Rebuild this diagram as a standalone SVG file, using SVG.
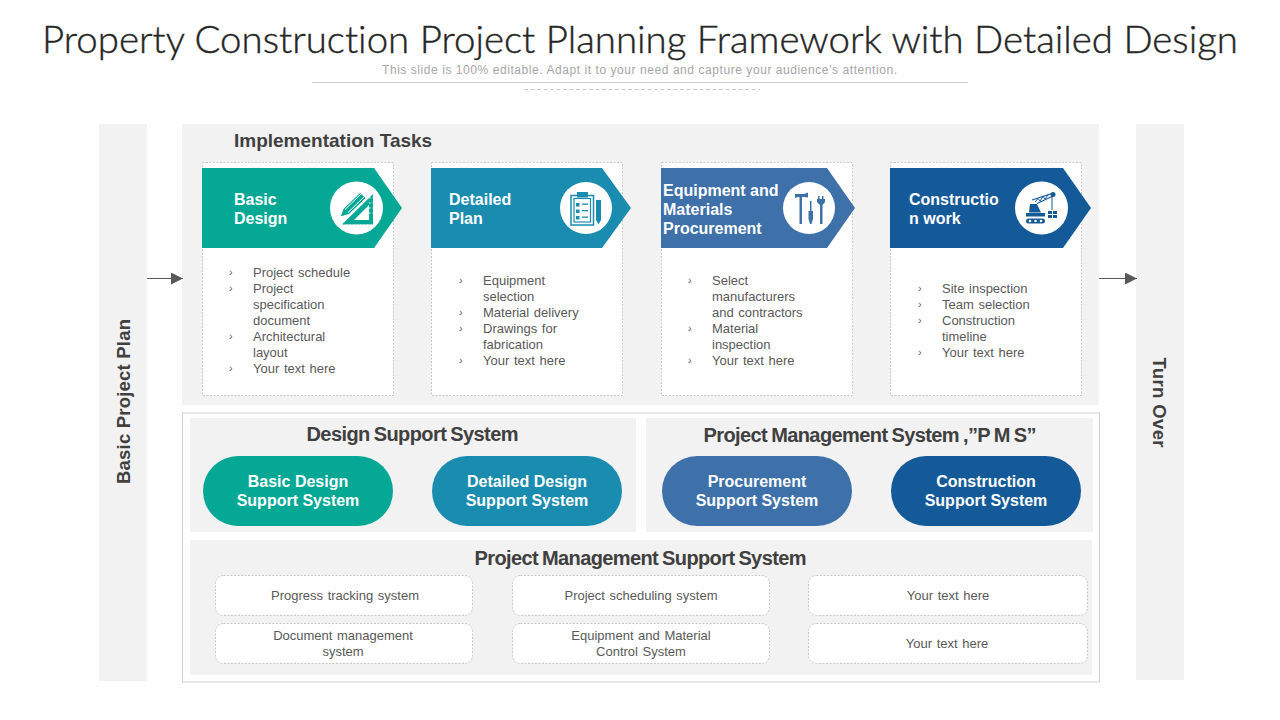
<svg xmlns="http://www.w3.org/2000/svg" width="1280" height="720" viewBox="0 0 1280 720">
<style>
text{font-family:"Liberation Sans",Arial,sans-serif}
.panel{fill:#f2f2f2}
.card{fill:#fff;stroke:#c8c8c8;stroke-width:1;stroke-dasharray:2 1.5}
.hd{font-size:19px;font-weight:700;fill:#404040}
.hd2{font-size:20px;font-weight:700;fill:#404040;text-anchor:middle;word-spacing:-1px}
.lbl{font-size:16px;font-weight:700;fill:#fff}
.pill{font-size:16px;font-weight:700;fill:#fff;text-anchor:middle}
.li{font-size:13px;fill:#595959;word-spacing:1px}
.bu{font-size:11px;fill:#595959}
.box{font-size:13px;fill:#595959;text-anchor:middle;word-spacing:1px}
.c1{fill:#05a795}.c2{fill:#1a8caf}.c3{fill:#3e70aa}.c4{fill:#155a98}
.conn{stroke:#595959;stroke-width:1;fill:none;marker-end:url(#ah)}
</style>
<defs>
<marker id="ah" viewBox="0 0 12 12" refX="12" refY="6" markerWidth="12" markerHeight="12" markerUnits="userSpaceOnUse" orient="auto"><path d="M0 0L12 6L0 12Z" fill="#595959"/></marker>
</defs>
<rect width="1280" height="720" fill="#fff"/>
<g id="header">
<text x="640" y="53" text-anchor="middle" textLength="1196" lengthAdjust="spacingAndGlyphs" style="font-family:Lato,'Liberation Sans',sans-serif;font-size:38px;font-weight:300;font-variant-ligatures:none" fill="#262626" stroke="#262626" stroke-width="0.4">Property Construction Project Planning Framework with Detailed Design</text>
<text x="639.500" y="74" text-anchor="middle" textLength="515" lengthAdjust="spacing" font-size="12px" fill="#a6a6a6">This slide is 100% editable. Adapt it to your need and capture your audience’s attention.</text>
<line x1="312" y1="82.500" x2="968" y2="82.500" stroke="#d0d0d0"/>
<line x1="524" y1="89.500" x2="760" y2="89.500" stroke="#c8c8c8" stroke-dasharray="4 2.500"/>
</g>
<g id="basic-project-plan"><rect class="panel" x="99" y="124" width="48" height="557"/><text class="hd" transform="translate(130 401.500) rotate(-90)" text-anchor="middle" textLength="165" style="font-size:18.500px">Basic Project Plan</text></g>
<g id="turn-over"><rect class="panel" x="1136" y="124" width="48" height="556"/><text class="hd" transform="translate(1153 402.500) rotate(90)" text-anchor="middle" textLength="90" style="font-size:18.500px">Turn Over</text></g>
<g id="implementation-tasks"><rect class="panel" x="182" y="124" width="917" height="281"/><text class="hd" x="234" y="147">Implementation Tasks</text></g>
<rect id="lower-frame" x="182.500" y="413" width="917" height="269" fill="#fff" stroke="#d0d0d0"/>

<g id="task-basic-design">
<rect class="card" x="202.500" y="162.500" width="191" height="233"/>
<path class="c1" d="M202 168H374L402 208L374 248H202Z"/>
<text class="lbl" x="234" y="205">Basic</text><text class="lbl" x="234" y="224">Design</text>
<circle cx="356.500" cy="208" r="26.500" fill="#fff"/>
<path class="c1" d="M342 224.500L373 194V224.500ZM354 220H369V205Z" fill-rule="evenodd"/>
<path d="M346 225H372M369 198H373M369 203H373M369 208H373M369 213H373" stroke="#fff" stroke-width="1" stroke-dasharray="1.500 2" fill="none"/>
<path class="c1" d="M340 217L343 209L360 192.500L366 198L349 214.500Z" stroke="#fff" stroke-width="1"/>
<path d="M345 209.500L361 194M348 212.500L364 197" stroke="#fff" stroke-width="1" fill="none"/>
<text class="bu" x="229" y="276">›</text><text class="li" x="253" y="277">Project schedule</text>
<text class="bu" x="229" y="292">›</text><text class="li" x="253" y="293">Project</text><text class="li" x="253" y="309">specification</text><text class="li" x="253" y="325">document</text>
<text class="bu" x="229" y="340">›</text><text class="li" x="253" y="341">Architectural</text><text class="li" x="253" y="357">layout</text>
<text class="bu" x="229" y="372">›</text><text class="li" x="253" y="373">Your text here</text>
</g>

<g id="task-detailed-plan">
<rect class="card" x="431.500" y="162.500" width="191" height="233"/>
<path class="c2" d="M431 168H602L631 208L602 248H431Z"/>
<text class="lbl" x="449" y="205">Detailed</text><text class="lbl" x="449" y="224">Plan</text>
<circle cx="586" cy="208" r="26" fill="#fff"/>
<rect x="571" y="195.500" width="22.500" height="29.500" fill="none" stroke="#1a8caf" stroke-width="1.500"/>
<rect x="574" y="198.500" width="16.500" height="23.500" fill="none" stroke="#1a8caf" stroke-width="1.200"/>
<g class="c2"><rect x="577" y="192" width="11" height="5.500"/><rect x="576" y="203" width="3.500" height="3.500"/><rect x="582" y="203.500" width="6" height="1.300"/><rect x="576" y="209.500" width="3.500" height="3.500"/><rect x="582" y="210" width="6" height="1.300"/><rect x="576" y="216" width="3.500" height="3.500"/><rect x="582" y="216.500" width="6" height="1.300"/><path d="M596 200H601V220L598.500 224.500L596 220Z"/></g>
<text class="bu" x="459" y="284">›</text><text class="li" x="483" y="285">Equipment</text><text class="li" x="483" y="301">selection</text>
<text class="bu" x="459" y="316">›</text><text class="li" x="483" y="317">Material delivery</text>
<text class="bu" x="459" y="332">›</text><text class="li" x="483" y="333">Drawings for</text><text class="li" x="483" y="349">fabrication</text>
<text class="bu" x="459" y="364">›</text><text class="li" x="483" y="365">Your text here</text>
</g>

<g id="task-procurement">
<rect class="card" x="661.500" y="162.500" width="191" height="233"/>
<path class="c3" d="M661 168H827L855 208L827 248H661Z"/>
<text class="lbl" x="663" y="196">Equipment and</text><text class="lbl" x="663" y="215">Materials</text><text class="lbl" x="663" y="234">Procurement</text>
<circle cx="809" cy="208" r="26" fill="#fff"/>
<g class="c3"><path d="M795 194H804L808 192.500V197.500L804 197H802V224H799.500V197H798L795 198Z"/><path d="M810 201H811.500V211H813V219L811.500 224H810L808.500 219V211H810Z"/><path d="M818 196H819.500V199H822V196H823.500V199H825V202L822.500 205V224H820V205L817 202V199H818Z"/></g>
<text class="bu" x="688" y="284">›</text><text class="li" x="712" y="285">Select</text><text class="li" x="712" y="301">manufacturers</text><text class="li" x="712" y="317">and contractors</text>
<text class="bu" x="688" y="332">›</text><text class="li" x="712" y="333">Material</text><text class="li" x="712" y="349">inspection</text>
<text class="bu" x="688" y="364">›</text><text class="li" x="712" y="365">Your text here</text>
</g>

<g id="task-construction">
<rect class="card" x="890.500" y="162.500" width="191" height="233"/>
<path class="c4" d="M890 168H1063L1091 208L1063 248H890Z"/>
<text class="lbl" x="909" y="205">Constructio</text><text class="lbl" x="909" y="224">n work</text>
<circle cx="1041.500" cy="208" r="26.500" fill="#fff"/>
<g class="c4"><rect x="1026" y="218.500" width="19" height="5" rx="2.500"/><rect x="1026" y="213" width="19" height="3.500"/><path d="M1030 204H1037L1041 212.500H1029Z"/><path d="M1032 200L1052 193.500L1053 196L1037 203.500" fill="none" stroke="#155a98" stroke-width="1.200"/><path d="M1035 202L1038 198.500L1040 201L1043 196.500L1045 199L1048 195" fill="none" stroke="#155a98" stroke-width="1"/><rect x="1051.500" y="196" width="1" height="14"/><circle cx="1053" cy="194.500" r="2.500"/><rect x="1048" y="211" width="4" height="3"/><rect x="1053" y="211" width="4" height="3"/><rect x="1048" y="215" width="4" height="3"/><rect x="1053" y="215" width="4" height="3"/></g>
<circle cx="1030" cy="221" r="1.300" fill="#fff"/><circle cx="1035.500" cy="221" r="1.300" fill="#fff"/><circle cx="1041" cy="221" r="1.300" fill="#fff"/>
<text class="bu" x="918" y="292">›</text><text class="li" x="942" y="293">Site inspection</text>
<text class="bu" x="918" y="308">›</text><text class="li" x="942" y="309">Team selection</text>
<text class="bu" x="918" y="324">›</text><text class="li" x="942" y="325">Construction</text><text class="li" x="942" y="341">timeline</text>
<text class="bu" x="918" y="356">›</text><text class="li" x="942" y="357">Your text here</text>
</g>

<g id="design-support-system">
<rect class="panel" x="190" y="418" width="446" height="114"/>
<text class="hd2" x="412.500" y="441" textLength="212">Design Support System</text>
</g>
<g id="pms">
<rect class="panel" x="646" y="418" width="447" height="114"/>
<text class="hd2" x="870" y="442" textLength="333">Project Management System ,”P M S”</text>
</g>
<g id="pill-basic"><rect class="c1" x="203" y="456" width="190" height="70" rx="35"/><text class="pill" x="298" y="487">Basic Design</text><text class="pill" x="298" y="506">Support System</text></g>
<g id="pill-detailed"><rect class="c2" x="432" y="456" width="190" height="70" rx="35"/><text class="pill" x="527" y="487">Detailed Design</text><text class="pill" x="527" y="506">Support System</text></g>
<g id="pill-procurement"><rect class="c3" x="662" y="456" width="190" height="70" rx="35"/><text class="pill" x="757" y="487">Procurement</text><text class="pill" x="757" y="506">Support System</text></g>
<g id="pill-construction"><rect class="c4" x="891" y="456" width="190" height="70" rx="35"/><text class="pill" x="986" y="487">Construction</text><text class="pill" x="986" y="506">Support System</text></g>

<g id="pm-support-system">
<rect class="panel" x="190" y="540" width="902" height="135"/>
<text class="hd2" x="640.500" y="565" textLength="332">Project Management Support System</text>
</g>
<g id="box-progress"><rect class="card" x="215.500" y="575.500" width="257" height="40" rx="8"/><text class="box" x="345" y="600">Progress tracking system</text></g>
<g id="box-scheduling"><rect class="card" x="512.500" y="575.500" width="257" height="40" rx="8"/><text class="box" x="641" y="600">Project scheduling system</text></g>
<g id="box-text1"><rect class="card" x="808.500" y="575.500" width="279" height="40" rx="8"/><text class="box" x="948" y="600">Your text here</text></g>
<g id="box-document"><rect class="card" x="215.500" y="623.500" width="257" height="40" rx="8"/><text class="box" x="343" y="640">Document management</text><text class="box" x="343" y="656">system</text></g>
<g id="box-equipment"><rect class="card" x="512.500" y="623.500" width="257" height="40" rx="8"/><text class="box" x="641" y="640">Equipment and Material</text><text class="box" x="641" y="656">Control System</text></g>
<g id="box-text2"><rect class="card" x="808.500" y="623.500" width="279" height="40" rx="8"/><text class="box" x="947" y="648">Your text here</text></g>

<g id="connectors">
<line class="conn" x1="147" y1="278.500" x2="183" y2="278.500"/>
<line class="conn" x1="1099" y1="278.500" x2="1137" y2="278.500"/>
</g>
</svg>
